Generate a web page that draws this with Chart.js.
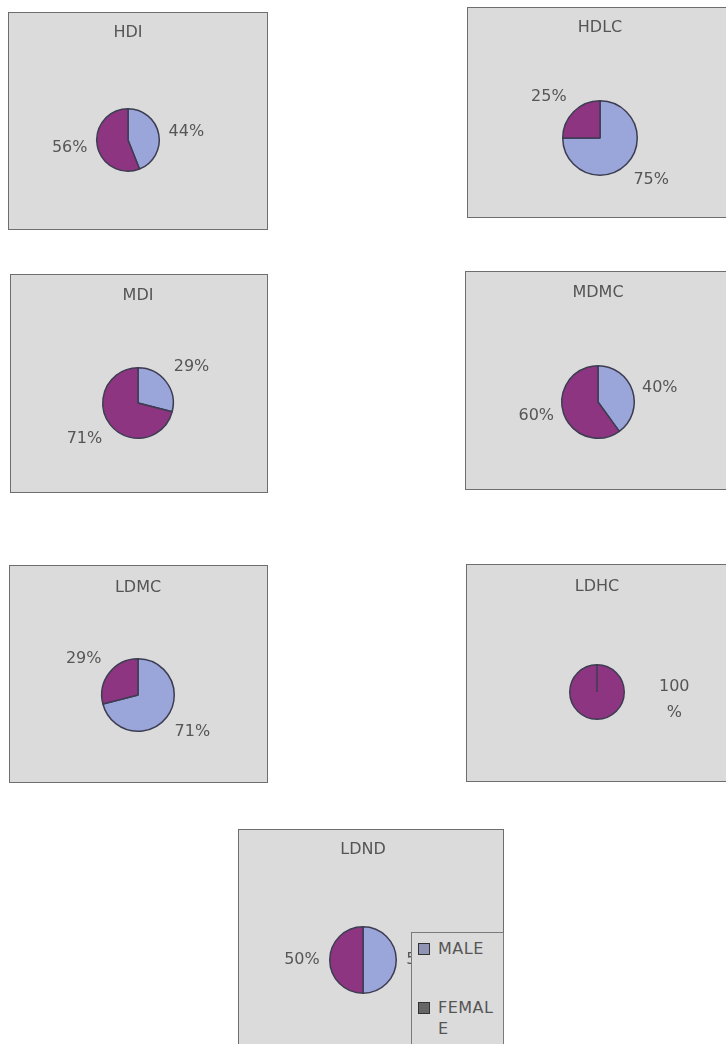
<!DOCTYPE html>
<html>
<head>
<meta charset="utf-8">
<script src="https://cdn.jsdelivr.net/npm/chart.js@4.4.1/dist/chart.umd.min.js"></script>
<style>
  body { margin: 0; width: 726px; height: 1044px; position: relative; overflow: hidden; background: #fff; font-family: "DejaVu Sans", sans-serif; }
  .panel { position: absolute; background: #dbdbdb; border: 1px solid #6e6e6e; box-sizing: border-box; }
  .panel canvas { position: absolute; left: -1px; top: -1px; }
  .legend { position: absolute; left: 411px; top: 932px; width: 93px; height: 130px; box-sizing: border-box; background: #dbdbdb; border: 1px solid #7a7a7a; padding: 5px 0 0 6px; z-index: 2; }
  .legend .item { display: flex; align-items: flex-start; margin-bottom: 38px; }
  .legend .mark { width: 10px; height: 10px; margin: 5px 8px 0 0; border: 1px solid #333; flex: none; }
  .legend .txt { width: 60px; font-size: 16px; line-height: 21px; letter-spacing: 0.5px; color: #555; word-break: break-all; }
</style>
</head>
<body>
<script>
const chartTitles = ["HDI", "HDLC", "MDI", "MDMC", "LDMC", "LDHC", "LDND"];
const categories = ["MALE", "FEMALE"];
const maleValues = [44, 75, 29, 40, 71, 0, 50];
const femaleValues = [56, 25, 71, 60, 29, 100, 50];

const sliceColors = ["#9aa5d9", "#8d3580"];
const legendMarks = ["#8f94b4", "#666"];

// frame [left, top, right, bottom], pie centre and radius, title baseline centre (page px)
const panels = [
  { box: [8, 12, 268, 230], cx: 128, cy: 140, r: 32, titleY: 33 },
  { box: [467, 7, 732, 218], cx: 600, cy: 138, r: 38, titleY: 28 },
  { box: [10, 274, 268, 493], cx: 138, cy: 403, r: 36, titleY: 296 },
  { box: [465, 271, 732, 490], cx: 598, cy: 402, r: 37, titleY: 293 },
  { box: [9, 565, 268, 783], cx: 138, cy: 695, r: 37, titleY: 588 },
  { box: [466, 564, 732, 782], cx: 597, cy: 692, r: 28, titleY: 587 },
  { box: [238, 829, 504, 1060], cx: 363, cy: 960, r: 34, titleY: 850 },
];

Chart.defaults.font.family = "'DejaVu Sans', sans-serif";

// percent labels just outside each slice, like Excel "outside end"
const pctLabels = {
  id: "pctLabels",
  afterDatasetsDraw(chart) {
    const ctx = chart.ctx;
    const ds = chart.data.datasets[0];
    const total = ds.data.reduce((a, b) => a + b, 0);
    ctx.save();
    ctx.font = "16px 'DejaVu Sans'";
    ctx.fillStyle = "#565656";
    chart.getDatasetMeta(0).data.forEach((arc, i) => {
      const v = ds.data[i];
      if (!v) return;
      const { x, y, startAngle, endAngle, outerRadius } =
        arc.getProps(["x", "y", "startAngle", "endAngle", "outerRadius"], true);
      const pct = Math.round((v / total) * 100) + "%";
      if (endAngle - startAngle > 2 * Math.PI - 0.001) {
        // whole pie: label sits to the right and wraps
        ctx.textAlign = "center";
        ctx.textBaseline = "middle";
        const lx = x + outerRadius + 50;
        ctx.fillText(pct.slice(0, -1), lx, y - 5);
        ctx.fillText("%", lx, y + 21);
        return;
      }
      const mid = (startAngle + endAngle) / 2;
      const c = Math.cos(mid), s = Math.sin(mid);
      const d = outerRadius + 10;
      ctx.textAlign = c > 0.3 ? "left" : c < -0.3 ? "right" : "center";
      ctx.textBaseline = s > 0.5 ? "top" : s < -0.5 ? "bottom" : "middle";
      ctx.fillText(pct, x + c * d, y + s * d);
    });
    ctx.restore();
  },
};

panels.forEach((p, i) => {
  const [x1, y1, x2, y2] = p.box;
  const w = x2 - x1, h = y2 - y1;
  const div = document.createElement("div");
  div.className = "panel";
  Object.assign(div.style, { left: x1 + "px", top: y1 + "px", width: w + "px", height: h + "px" });
  const canvas = document.createElement("canvas");
  canvas.width = w;
  canvas.height = h;
  div.appendChild(canvas);
  document.body.appendChild(div);

  const lh = 19;
  new Chart(canvas, {
    type: "pie",
    data: {
      labels: categories,
      datasets: [{
        data: [maleValues[i], femaleValues[i]],
        backgroundColor: sliceColors,
        borderColor: "#3d3d52",
        borderWidth: 1.5,
        clip: false,
      }],
    },
    options: {
      responsive: false,
      animation: false,
      layout: {
        padding: { left: p.cx - x1 - p.r, right: x2 - p.cx - p.r, top: 0, bottom: y2 - p.cy - p.r },
      },
      plugins: {
        legend: { display: false },
        tooltip: { enabled: false },
        title: {
          display: true,
          text: chartTitles[i],
          color: "#555",
          font: { size: 16, weight: "normal", lineHeight: lh / 16 },
          padding: { top: p.titleY - y1 - lh / 2, bottom: p.cy - p.r - p.titleY - lh / 2 },
        },
      },
    },
    plugins: [pctLabels],
  });
});

// legend box overlapping the last chart
const legend = document.createElement("div");
legend.className = "legend";
categories.forEach((name, k) => {
  const item = document.createElement("div");
  item.className = "item";
  const mark = document.createElement("span");
  mark.className = "mark";
  mark.style.background = legendMarks[k];
  const txt = document.createElement("span");
  txt.className = "txt";
  txt.textContent = name;
  item.appendChild(mark);
  item.appendChild(txt);
  legend.appendChild(item);
});
document.body.appendChild(legend);
</script>
</body>
</html>
